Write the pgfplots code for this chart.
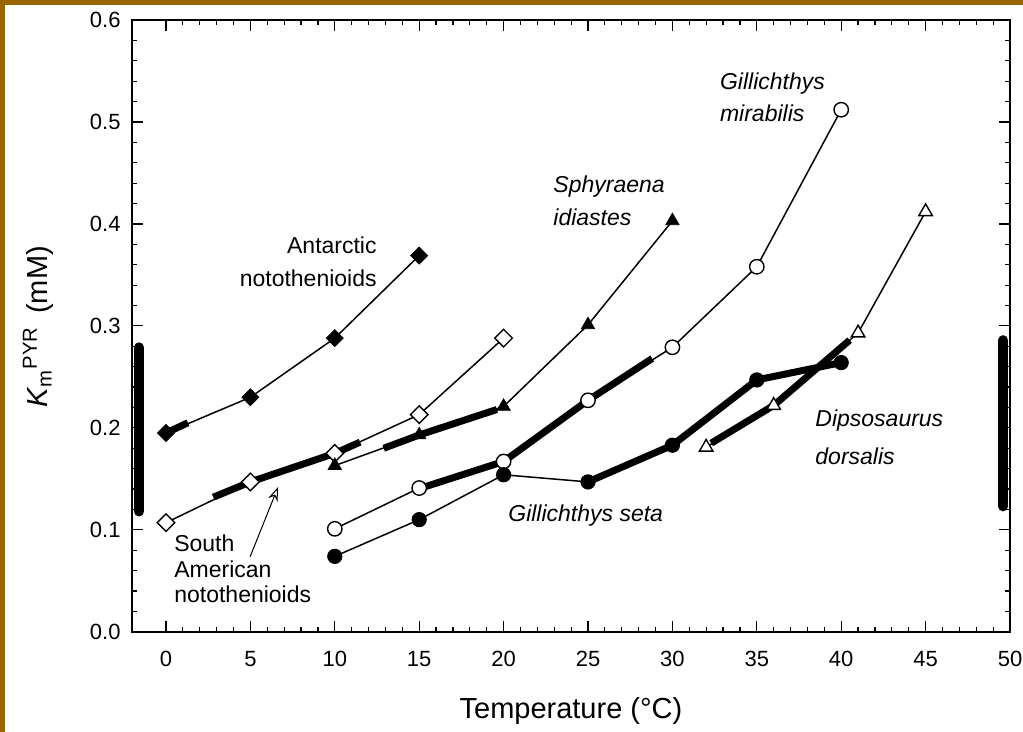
\documentclass[border=0pt]{standalone}
\usepackage{pgfplots}
\pgfplotsset{compat=1.18}
\usepackage{fontspec}
\setmainfont{Liberation Sans}
\usetikzlibrary{arrows.meta}
\definecolor{framebrown}{RGB}{153,102,0}
\begin{document}
\begin{tikzpicture}
\begin{axis}[
  scale only axis, width=439pt, height=306pt,
  xmin=-2, xmax=50, ymin=0, ymax=0.6,
  xtick={0,5,...,50}, ytick={0,0.1,0.2,0.3,0.4,0.5,0.6},
  minor x tick num=4, minor y tick num=4,
  major tick length=5.5pt, minor tick length=2.5pt,
  tick style={black, line width=0.6pt},
  axis line style={line width=0.8pt},
  ticklabel style={font=\fontsize{11}{13}\selectfont},
  /pgf/number format/assume math mode=true,
  yticklabel style={/pgf/number format/fixed, /pgf/number format/fixed zerofill, /pgf/number format/precision=1, xshift=-2.3pt},
  xticklabel style={yshift=-6.3pt},
  clip=false,
]
% brown frame strips
\fill[framebrown] (axis cs:-10.2,-0.11) rectangle (axis cs:-9.538,0.63);
\fill[framebrown] (axis cs:-10.2,0.6147) rectangle (axis cs:51.2,0.63);
\coordinate (bbBL) at (axis cs:-9.834,-0.098);
\coordinate (bbTR) at (axis cs:50.77,0.6196);

% vertical range bars
\addplot[black, line width=5pt, line cap=round] coordinates {(-1.6,0.118) (-1.6,0.279)};
\addplot[black, line width=5pt, line cap=round] coordinates {(49.6,0.123) (49.6,0.286)};

% thick segments (habitat ranges)
\addplot[black, line width=3.5pt] coordinates {(0,0.195) (1.3,0.205)};
\addplot[black, line width=3.5pt] coordinates {(2.8,0.132) (5,0.147) (10,0.175) (11.5,0.186)};
\addplot[black, line width=3.5pt] coordinates {(12.9,0.180) (15,0.193) (19.6,0.218)};
\addplot[black, line width=3.5pt] coordinates {(15.3,0.142) (20,0.167) (25,0.227) (28.8,0.268)};
\addplot[black, line width=3.5pt] coordinates {(25,0.147) (30,0.183) (35,0.247) (40,0.264)};
\addplot[black, line width=3.5pt] coordinates {(32.3,0.185) (36,0.222) (40.5,0.286)};

% thin series lines
\addplot[black, line width=0.75pt] coordinates {(0,0.195) (5,0.230) (10,0.288) (15,0.369)};
\addplot[black, line width=0.75pt] coordinates {(0,0.107) (5,0.147) (10,0.175) (15,0.213) (20,0.288)};
\addplot[black, line width=0.75pt] coordinates {(10,0.163) (15,0.193) (20,0.221) (25,0.301) (30,0.403)};
\addplot[black, line width=0.75pt] coordinates {(10,0.101) (15,0.141) (20,0.167) (25,0.227) (30,0.279) (35,0.358) (40,0.512)};
\addplot[black, line width=0.75pt] coordinates {(10,0.074) (15,0.110) (20,0.154) (25,0.147) (30,0.183) (35,0.247) (40,0.264)};
\addplot[black, line width=0.75pt] coordinates {(32,0.181) (36,0.222) (41,0.293) (45,0.412)};

% markers
\addplot[only marks, mark=square*, mark size=3pt, mark options={rotate=45, fill=black, draw=black}]
  coordinates {(0,0.195) (5,0.230) (10,0.288) (15,0.369)};
\addplot[only marks, mark=square*, mark size=3.1pt, mark options={rotate=45, fill=white, draw=black, line width=0.7pt}]
  coordinates {(0,0.107) (5,0.147) (10,0.175) (15,0.213) (20,0.288)};
\addplot[only marks, mark=triangle*, mark size=3.8pt, mark options={fill=black, draw=black}]
  coordinates {(10,0.163) (15,0.193) (20,0.221) (25,0.301) (30,0.403)};
\addplot[only marks, mark=*, mark size=3.6pt, mark options={fill=white, draw=black, line width=0.7pt}]
  coordinates {(10,0.101) (15,0.141) (20,0.167) (25,0.227) (30,0.279) (35,0.358) (40,0.512)};
\addplot[only marks, mark=*, mark size=3.6pt, mark options={fill=black, draw=black}]
  coordinates {(10,0.074) (15,0.110) (20,0.154) (25,0.147) (30,0.183) (35,0.247) (40,0.264)};
\addplot[only marks, mark=triangle*, mark size=3.9pt, mark options={fill=white, draw=black, line width=0.7pt}]
  coordinates {(32,0.181) (36,0.222) (41,0.293) (45,0.412)};

% arrow to South American range
\draw[line width=0.5pt, -{Stealth[open, length=7pt, width=5pt]}] (axis cs:4.98,0.0735) -- (axis cs:6.64,0.142);

% annotations
\begin{scope}[every node/.style={inner sep=0pt, font=\fontsize{11.5}{13}\selectfont}]
\node[anchor=base east] at (axis cs:12.5,0.3706) {Antarctic};
\node[anchor=base east] at (axis cs:12.5,0.3382) {notothenioids};
\node[anchor=base west] at (axis cs:0.47,0.0784) {South};
\node[anchor=base west] at (axis cs:0.47,0.0529) {American};
\node[anchor=base west] at (axis cs:0.47,0.0284) {notothenioids};
\node[anchor=base west] at (axis cs:22.93,0.4304) {\itshape Sphyraena};
\node[anchor=base west] at (axis cs:22.93,0.398) {\itshape idiastes};
\node[anchor=base west] at (axis cs:32.8,0.5314) {\itshape Gillichthys};
\node[anchor=base west] at (axis cs:32.8,0.500) {\itshape mirabilis};
\node[anchor=base west] at (axis cs:38.45,0.201) {\itshape Dipsosaurus};
\node[anchor=base west] at (axis cs:38.45,0.1637) {\itshape dorsalis};
\node[anchor=base west] at (axis cs:20.26,0.1078) {\itshape Gillichthys seta};
\end{scope}

% axis labels
\node[anchor=base, inner sep=0pt, font=\fontsize{14.5}{16}\selectfont] at (axis cs:23.99,-0.0853) {Temperature (°C)};
\node[rotate=90, anchor=center, inner sep=0pt, font=\fontsize{14.5}{16}\selectfont] at (axis cs:-7.58,0.299)
  {\textit{K}\textsubscript{m}\textsuperscript{PYR}\, (mM)};
\end{axis}
\pgfresetboundingbox
\useasboundingbox (bbBL) rectangle (bbTR);
\end{tikzpicture}
\end{document}
